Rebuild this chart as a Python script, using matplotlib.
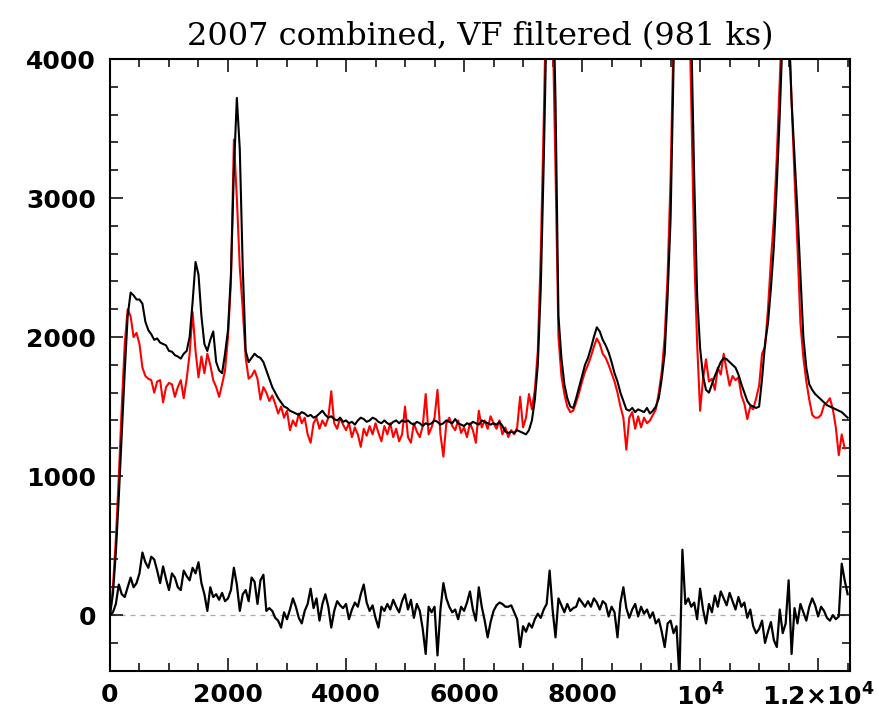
import numpy as np
import matplotlib
matplotlib.use('Agg')
from matplotlib import pyplot as plt
from matplotlib.ticker import MultipleLocator, FixedLocator, FixedFormatter

# energy grid (eV), bin centres every 50 eV
energy = np.arange(0, 12550, 50)

# black: first spectrum
spec_black = [
    0, 150, 450, 850, 1300, 1750, 2150, 2320, 2300, 2270,
    2270, 2240, 2110, 2050, 2020, 1980, 1990, 1960, 1950, 1940,
    1900, 1895, 1870, 1860, 1845, 1880, 1900, 2000, 2250, 2540,
    2450, 2150, 1950, 1900, 1980, 2040, 1820, 1760, 1740, 1880,
    2050, 2450, 3200, 3720, 3350, 2500, 1900, 1820, 1850, 1880,
    1860, 1850, 1820, 1760, 1700, 1640, 1600, 1560, 1530, 1500,
    1490, 1470, 1460, 1450, 1440, 1460, 1450, 1430, 1440, 1420,
    1430, 1450, 1470, 1440, 1420, 1430, 1410, 1400, 1420, 1390,
    1400, 1380, 1390, 1370, 1400, 1420, 1410, 1390, 1400, 1420,
    1410, 1390, 1380, 1400, 1380, 1370, 1390, 1400, 1380, 1400,
    1390, 1400, 1380, 1370, 1390, 1380, 1360, 1380, 1370, 1380,
    1400, 1390, 1370, 1380, 1400, 1390, 1380, 1410, 1380, 1370,
    1360, 1380, 1370, 1390, 1380, 1370, 1400, 1390, 1380, 1370,
    1380, 1370, 1390, 1360, 1320, 1310, 1320, 1310, 1330, 1320,
    1310, 1300, 1330, 1400, 1550, 1800, 2350, 3250, 4300, 5100,
    4700, 3700, 2150, 1850, 1660, 1560, 1500, 1490, 1560, 1640,
    1720, 1800, 1850, 1920, 2000, 2070, 2040, 1980, 1940, 1890,
    1820, 1740, 1680, 1600, 1540, 1480, 1470, 1490, 1460, 1480,
    1470, 1460, 1490, 1450, 1470, 1500, 1560, 1700, 1880, 2300,
    2850, 3950, 4900, 5500, 5700, 5500, 5000, 4200, 3150, 2300,
    1920, 1720, 1620, 1600, 1660, 1720, 1770, 1820, 1850, 1840,
    1820, 1800, 1780, 1730, 1660, 1600, 1540, 1510, 1500, 1490,
    1500, 1700, 1950, 2100, 2350, 2650, 3100, 3600, 4200, 4700,
    4250, 3700, 3300, 2900, 2450, 2000, 1780, 1660, 1620, 1590,
    1570, 1550, 1530, 1510, 1500, 1490, 1480, 1470, 1460, 1440,
    1420,
]

# red: second spectrum
spec_red = [
    0, 200, 550, 1000, 1500, 1950, 2200, 2150, 2000, 2030,
    1950, 1780, 1720, 1700, 1690, 1600, 1680, 1690, 1530, 1640,
    1670, 1660, 1570, 1640, 1690, 1560, 1700, 1880, 2180, 1900,
    1710, 1860, 1740, 1880, 1800, 1690, 1640, 1570, 1660, 1760,
    2000, 2400, 3420, 3000, 2500, 2200, 1850, 1700, 1720, 1760,
    1700, 1550, 1640, 1600, 1540, 1580, 1520, 1450, 1500, 1420,
    1470, 1330, 1400, 1360, 1450, 1380, 1420, 1300, 1240, 1380,
    1420, 1340, 1400, 1360, 1420, 1610, 1380, 1340, 1420, 1370,
    1330, 1380, 1280, 1350, 1300, 1210, 1340, 1290, 1360, 1300,
    1380, 1310, 1250, 1360, 1300, 1380, 1280, 1340, 1250, 1300,
    1500, 1280, 1240, 1380, 1320, 1280, 1360, 1590, 1300, 1350,
    1420, 1620, 1300, 1140, 1380, 1420, 1360, 1330, 1400, 1310,
    1350, 1280, 1380, 1330, 1240, 1470, 1350, 1400, 1340, 1430,
    1380, 1340, 1400, 1300, 1350, 1280, 1330, 1300, 1350, 1570,
    1350, 1420, 1590, 1480, 1620, 1900, 2600, 3550, 4600, 5000,
    4300, 3200, 2000, 1720, 1590, 1500, 1460, 1470, 1530, 1600,
    1680, 1750, 1800, 1860, 1930, 1990, 1950, 1880, 1850, 1800,
    1740, 1680, 1600, 1500, 1420, 1190, 1420, 1460, 1340, 1430,
    1350, 1420, 1380, 1400, 1440, 1480, 1600, 1750, 2000, 2450,
    3150, 4200, 5100, 5600, 5600, 5300, 4700, 3700, 2600, 1950,
    1470, 1700, 1840, 1680, 1700, 1620, 1780, 1730, 1880, 1760,
    1650, 1720, 1690, 1710, 1580, 1520, 1410, 1500, 1480, 1560,
    1650, 1880, 1930, 2200, 2550, 2850, 3300, 3850, 4400, 4700,
    4300, 3700, 3150, 2650, 2100, 1850, 1680, 1550, 1440, 1420,
    1420, 1440, 1510, 1530, 1560, 1480, 1350, 1150, 1300, 1200,
    np.nan,
]

# black, bottom: residual between the two
resid = [
    0, 20, 80, 220, 150, 130, 200, 270, 200, 230,
    300, 450, 380, 340, 420, 400, 320, 230, 350, 260,
    180, 300, 270, 200, 180, 320, 280, 250, 340, 300,
    380, 230, 150, 30, 200, 130, 150, 110, 160, 100,
    120, 180, 340, 220, 30, 150, 180, 100, 270, 240,
    80, 250, 290, 30, 50, 30, -20, -40, -90, 20,
    -30, 40, 120, 60, -20, -60, 30, 80, 190, 50,
    120, -40, 80, 150, 60, -90, 30, 100, 70, 50,
    80, -30, 40, 90, 60, 150, 220, 90, 30, 70,
    -20, -90, 60, 30, 80, 40, 110, 60, 20, 100,
    150, 40, 110, -20, 80, 30, -100, -280, 60, 20,
    60, -290, 40, 230, 120, 60, 20, 40, -30, 60,
    30, 90, 170, 40, -40, 200, 60, -40, -160, -50,
    30, 70, 90, 80, 60, 60, 70, 20, -30, -230,
    -80, -120, -60, -90, -30, 10, -20, 40, 80, 320,
    40, -160, 120, 70, 20, 80, 30, 50, 60, 120,
    90, 60, 100, 60, 120, 90, 40, 100, 80, -10,
    60, 20, -160, 90, 200, 50, -20, 40, 80, -10,
    60, 10, 40, -20, 20, -60, -30, -120, -230, -60,
    -40, -130, -80, -450, 470, 80, 120, 60, 90, -30,
    190, 40, -60, 80, 20, 140, 60, 170, 120, 70,
    160, 100, 40, 130, 60, 90, -20, 40, -80, -130,
    -100, -40, -200, -120, -50, -180, -230, 40, -130, -60,
    250, -280, 50, -60, 80, 20, -40, 60, 120, 70,
    -10, 60, 30, -20, -40, 0, -30, -10, 370, 250,
    150,
]

x_ticks = [0, 2000, 4000, 6000, 8000, 10000, 12000]
x_labels = ['0', '2000', '4000', '6000', '8000', r'$\mathbf{10^4}$', r'$\mathbf{1.2{\times}10^4}$']
y_ticks = [0, 1000, 2000, 3000, 4000]

plt.rcParams['mathtext.fontset'] = 'dejavusans'

fig = plt.figure(figsize=(8.79, 7.11), dpi=100)
ax = fig.add_axes([0.1251, 0.0567, 0.8419, 0.8603])

ax.axhline(0, color='#aaaaaa', lw=0.9, ls=(0, (4, 4)), zorder=1)
ax.plot(energy, spec_red, color='red', lw=1.5, zorder=2)
ax.plot(energy, spec_black, color='black', lw=1.5, zorder=3)
ax.plot(energy, resid, color='black', lw=1.6, zorder=3)

ax.set_xlim(0, 12540)
ax.set_ylim(-400, 4000)

ax.xaxis.set_major_locator(FixedLocator(x_ticks))
ax.xaxis.set_major_formatter(FixedFormatter(x_labels))
ax.xaxis.set_minor_locator(MultipleLocator(500))
ax.yaxis.set_major_locator(FixedLocator(y_ticks))
ax.yaxis.set_minor_locator(MultipleLocator(200))

ax.tick_params(which='both', direction='in', top=True, right=True, width=1.1)
ax.tick_params(which='major', length=9.5, labelsize=18, pad=9)
ax.tick_params(axis='y', which='major', pad=10)
ax.tick_params(which='minor', length=5.5)
for lab in ax.get_xticklabels() + ax.get_yticklabels():
    lab.set_fontweight('bold')
for s in ax.spines.values():
    s.set_linewidth(1.5)

ax.set_title('2007 combined, VF filtered (981 ks)', family='DejaVu Serif',
             fontsize=23, pad=10)

plt.savefig('out.png', dpi=100)
plt.close()
